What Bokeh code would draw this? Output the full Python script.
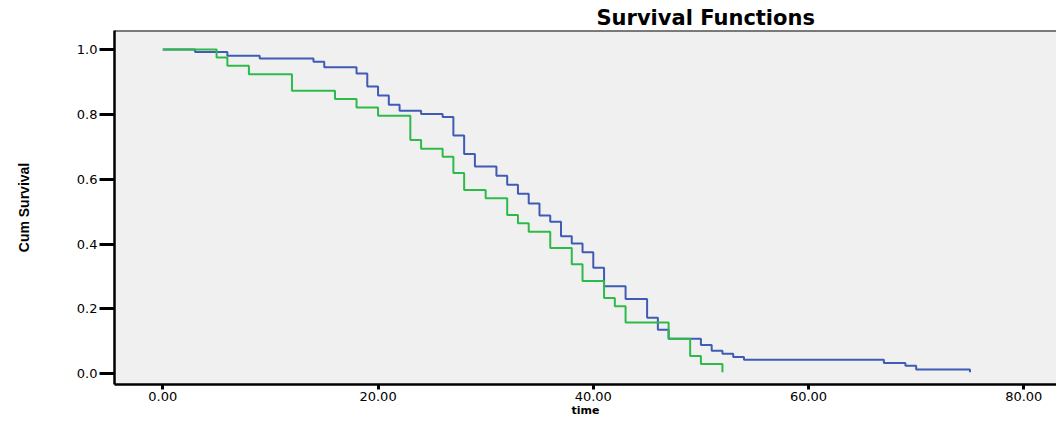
from bokeh.plotting import figure
from bokeh.models import FixedTicker, Span, Range1d
from bokeh.embed import file_html
from bokeh.resources import INLINE

# ---- data ----
blue_t = [0, 3, 6, 9, 14, 15, 18, 19, 20, 21, 22, 24, 26, 27, 28, 29, 31, 32, 33, 34,
          35, 36, 37, 38, 39, 40, 41, 43, 45, 46, 47, 50, 51, 52, 53, 54, 67, 69, 70, 75]
blue_s = [1.0, 0.992, 0.981, 0.972, 0.962, 0.945, 0.926, 0.886, 0.858, 0.830, 0.811,
          0.801, 0.792, 0.735, 0.678, 0.639, 0.611, 0.583, 0.555, 0.525, 0.488, 0.469,
          0.424, 0.402, 0.375, 0.327, 0.270, 0.231, 0.173, 0.136, 0.108, 0.089, 0.071,
          0.062, 0.052, 0.043, 0.033, 0.025, 0.013, 0.005]

green_t = [0, 5, 6, 8, 12, 16, 18, 20, 23, 24, 26, 27, 28, 30, 32, 33, 34, 36, 38, 39,
           41, 42, 43, 47, 49, 50, 52]
green_s = [1.0, 0.975, 0.950, 0.924, 0.873, 0.847, 0.821, 0.796, 0.721, 0.694, 0.669,
           0.619, 0.567, 0.541, 0.490, 0.464, 0.438, 0.388, 0.338, 0.286, 0.234, 0.208,
           0.158, 0.108, 0.055, 0.030, 0.005]

x_ticks = [0, 20, 40, 60, 80]
x_tick_labels = ["0.00", "20.00", "40.00", "60.00", "80.00"]
y_ticks = [0.0, 0.2, 0.4, 0.6, 0.8, 1.0]
y_tick_labels = ["0.0", "0.2", "0.4", "0.6", "0.8", "1.0"]

title_text = "Survival Functions"
x_label = "time"
y_label = "Cum Survival"

BLUE = "#3F5BB5"
GREEN = "#2EBA48"

y_top = 1.0586
p = figure(width=1056, height=419, output_backend="svg", toolbar_location=None,
           x_range=Range1d(-4.488, 83.04), y_range=Range1d(-0.033, y_top),
           min_border_left=114, min_border_right=0, min_border_top=30,
           min_border_bottom=35)
p.background_fill_color = "#F0F0F0"
p.border_fill_color = "white"
p.outline_line_color = None
p.grid.visible = False

p.step(blue_t, blue_s, mode="after", line_color=BLUE, line_width=2)
p.step(green_t, green_s, mode="after", line_color=GREEN, line_width=2)

# title
p.title.text = title_text
p.title.align = "left"
p.title.offset = 482
p.title.standoff = 2
p.title.text_font = "DejaVu Sans"
p.title.text_font_style = "bold"
p.title.text_font_size = "21px"
p.title.text_color = "black"

xa = p.xaxis[0]
xa.ticker = FixedTicker(ticks=x_ticks)
xa.major_label_overrides = {t: l for t, l in zip(x_ticks, x_tick_labels)}
xa.minor_tick_line_color = None
xa.major_tick_in = 0
xa.major_tick_out = 5
xa.major_tick_line_width = 3
xa.axis_line_width = 2.5
xa.major_label_standoff = 2
xa.major_label_text_font = "DejaVu Sans"
xa.major_label_text_font_size = "13px"
xa.major_label_text_color = "black"
xa.axis_label = x_label
xa.axis_label_standoff = 0
xa.axis_label_text_font = "DejaVu Sans"
xa.axis_label_text_font_style = "bold"
xa.axis_label_text_font_size = "11px"
xa.axis_label_text_color = "black"

ya = p.yaxis[0]
ya.ticker = FixedTicker(ticks=y_ticks)
ya.major_label_overrides = {t: l for t, l in zip(y_ticks, y_tick_labels)}
ya.minor_tick_line_color = None
ya.major_tick_in = 0
ya.major_tick_out = 15
ya.major_tick_line_width = 3
ya.axis_line_width = 2.5
ya.major_label_standoff = 2
ya.major_label_text_font = "DejaVu Sans"
ya.major_label_text_font_size = "13px"
ya.major_label_text_color = "black"
ya.axis_label = y_label
ya.axis_label_standoff = 42
ya.axis_label_text_font = "Liberation Sans"
ya.axis_label_text_font_style = "bold"
ya.axis_label_text_font_size = "14px"
ya.axis_label_text_color = "black"

# top border of the frame
p.add_layout(Span(location=y_top, dimension="width", line_color="black", line_width=2))

open("out.html", "w").write(file_html(p, INLINE))
